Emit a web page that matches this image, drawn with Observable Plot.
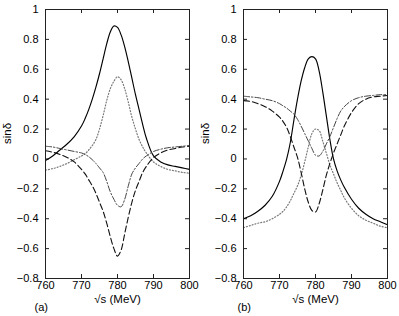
<!DOCTYPE html>
<html><head><meta charset="utf-8">
<script src="https://cdn.jsdelivr.net/npm/d3@7"></script>
<script src="https://cdn.jsdelivr.net/npm/@observablehq/plot@0.6"></script>
<style>body{margin:0;background:#fff}#c{display:flex;width:399px;height:316px;overflow:hidden}</style>
</head><body><div id="c"></div>
<script>
// sqrt(s) in MeV
const energy = [760,762,764,766,768,770,771,772,773,774,775,776,777,778,779,780,781,782,783,784,785,786,787,788,790,792,794,796,798,800];
const xTicks = [760,770,780,790,800];
const yTicks = [-0.8,-0.6,-0.4,-0.2,0,0.2,0.4,0.6,0.8,1];
const xLabel = "√s (MeV)";
const yLabel = "sinδ";
const panelLabels = ["(a)", "(b)"];

// panel (a)
const aSolid   = [-0.01,0.02,0.06,0.10,0.15,0.22,0.27,0.33,0.40,0.48,0.57,0.67,0.77,0.85,0.89,0.88,0.83,0.75,0.65,0.54,0.43,0.33,0.23,0.14,0.02,-0.02,-0.04,-0.05,-0.06,-0.07];
const aDotted  = [-0.075,-0.065,-0.05,-0.03,-0.005,0.02,0.035,0.06,0.09,0.13,0.20,0.29,0.39,0.47,0.52,0.55,0.53,0.47,0.38,0.28,0.20,0.13,0.08,0.04,-0.02,-0.05,-0.07,-0.08,-0.09,-0.095];
const aDashed  = [0.055,0.045,0.03,0.01,-0.02,-0.07,-0.10,-0.14,-0.18,-0.23,-0.29,-0.35,-0.43,-0.52,-0.60,-0.65,-0.61,-0.50,-0.39,-0.29,-0.21,-0.15,-0.09,-0.05,0.01,0.04,0.06,0.07,0.08,0.085];
const aDashDot = [0.085,0.08,0.07,0.06,0.05,0.04,0.03,0.015,-0.005,-0.03,-0.06,-0.09,-0.15,-0.22,-0.27,-0.31,-0.32,-0.27,-0.18,-0.10,-0.06,-0.03,0.0,0.02,0.05,0.065,0.075,0.08,0.085,0.09];

// panel (b)
const bSolid   = [-0.40,-0.38,-0.35,-0.31,-0.25,-0.15,-0.08,0.0,0.11,0.26,0.40,0.52,0.61,0.67,0.685,0.67,0.59,0.45,0.29,0.13,0.0,-0.08,-0.14,-0.19,-0.27,-0.33,-0.37,-0.40,-0.42,-0.44];
const bDotted  = [-0.46,-0.445,-0.43,-0.42,-0.40,-0.37,-0.35,-0.32,-0.28,-0.23,-0.18,-0.11,-0.02,0.08,0.17,0.20,0.19,0.12,0.04,-0.04,-0.10,-0.16,-0.21,-0.26,-0.33,-0.38,-0.41,-0.43,-0.45,-0.46];
const bDashed  = [0.39,0.385,0.37,0.35,0.32,0.28,0.25,0.21,0.15,0.08,0.01,-0.09,-0.20,-0.29,-0.345,-0.355,-0.30,-0.21,-0.11,-0.03,0.04,0.10,0.16,0.22,0.31,0.37,0.40,0.415,0.42,0.425];
const bDashDot = [0.42,0.415,0.41,0.40,0.39,0.37,0.355,0.34,0.32,0.30,0.265,0.22,0.17,0.12,0.07,0.025,0.02,0.05,0.10,0.15,0.21,0.27,0.32,0.35,0.39,0.41,0.42,0.425,0.43,0.43];

const styles = {
  solid:   {stroke: "#000", strokeWidth: 1.15},
  dotted:  {stroke: "#777", strokeWidth: 1.2, strokeDasharray: "1,2"},
  dashed:  {stroke: "#111", strokeWidth: 1.1, strokeDasharray: "6,3"},
  dashdot: {stroke: "#444", strokeWidth: 1.0, strokeDasharray: "6,2,1.5,2"}
};

function panel(series, tag, w, ml, mr, tagDx) {
  const frameW = w - ml - mr, frameH = 316 - 9 - 38;
  const lineMarks = series.map(([vals, st]) =>
    Plot.line(energy.map((e, i) => ({e, v: vals[i]})), {x: "e", y: "v", curve: "catmull-rom", ...styles[st]}));
  return Plot.plot({
    width: w, height: 316, marginLeft: ml, marginRight: mr, marginTop: 9, marginBottom: 38,
    style: {fontFamily: "'Liberation Sans', Arial, sans-serif", fontSize: "11px", color: "#000", background: "#fff"},
    x: {domain: [760, 800]},
    y: {domain: [-0.8, 1]},
    marks: [
      Plot.axisX({ticks: xTicks, tickSize: 0, tickPadding: 3, label: null, tickFormat: d3.format("~g")}),
      Plot.axisY({ticks: yTicks, tickSize: 0, tickPadding: 7, label: null, tickFormat: d3.format("~g")}),
      Plot.tickX(xTicks, {x: d => d, insetTop: frameH - 4, stroke: "#222"}),
      Plot.tickX(xTicks, {x: d => d, insetBottom: frameH - 4, stroke: "#222"}),
      Plot.tickY(yTicks, {y: d => d, insetRight: frameW - 4, stroke: "#222"}),
      Plot.tickY(yTicks, {y: d => d, insetLeft: frameW - 4, stroke: "#222"}),
      ...lineMarks,
      Plot.frame({stroke: "#222"}),
      Plot.text([xLabel], {text: d => d, frameAnchor: "bottom", dy: 24, fontSize: 11.5}),
      Plot.text([tag], {text: d => d, frameAnchor: "bottom-left", dx: tagDx, dy: 32, fontSize: 11}),
      Plot.text([yLabel], {text: d => d, frameAnchor: "left", dx: -38, rotate: -90, fontSize: 11.5})
    ]
  });
}

const c = document.getElementById("c");
c.append(panel([[aSolid,"solid"],[aDotted,"dotted"],[aDashed,"dashed"],[aDashDot,"dashdot"]], panelLabels[0], 200, 45, 11, -11));
c.append(panel([[bSolid,"solid"],[bDotted,"dotted"],[bDashed,"dashed"],[bDashDot,"dashdot"]], panelLabels[1], 199, 43, 12, -6));
</script>
</body></html>
